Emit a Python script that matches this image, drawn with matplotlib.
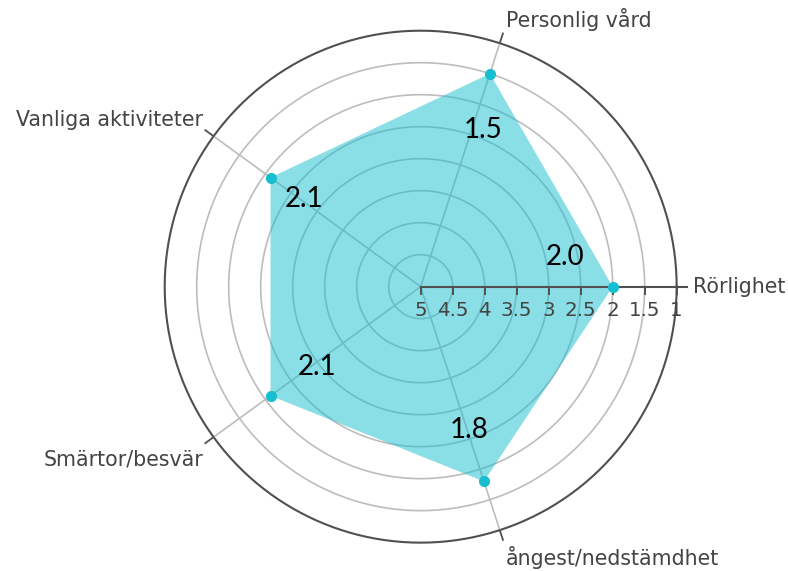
import numpy as np
import matplotlib.pyplot as plt

# EQ-5D style dimensions and mean scores (1 = best, 5 = worst)
categories = ['Rörlighet', 'Personlig vård', 'Vanliga aktiviteter',
              'Smärtor/besvär', 'ångest/nedstämdhet']
scores = [2.0, 1.5, 2.1, 2.1, 1.8]
r_ticks = [5, 4.5, 4, 3.5, 3, 2.5, 2, 1.5, 1]
r_tick_labels = ['5', '4.5', '4', '3.5', '3', '2.5', '2', '1.5', '1']

fig = plt.figure(figsize=(7.88, 5.71), dpi=100)
ax = fig.add_axes([0.209, 0.0496, 0.6497, 0.8967], projection='polar')
ax.set_ylim(5, 1)
ax.grid(False)
ax.set_xticks([])
ax.set_yticks([])
ax.spines['polar'].set_visible(False)

theta = np.deg2rad(np.arange(len(categories)) * 360 / len(categories))
dark = '#505050'
light = '#bdbdbd'
r_out = 0.84  # spoke ends a bit past the outer ring

# rings
ring = np.linspace(0, 2 * np.pi, 361)
for r in r_ticks[1:-1]:
    ax.plot(ring, np.full_like(ring, r), color=light, lw=1.2, zorder=1)
ax.plot(ring, np.full_like(ring, r_ticks[-1]), color=dark, lw=1.5, zorder=1, clip_on=False)

# spokes
for t in theta[1:]:
    ax.plot([t, t], [r_ticks[0], r_ticks[-1]], color=light, lw=1.2, zorder=1)
    ax.plot([t, t], [r_ticks[-1], r_out], color=dark, lw=1.3, zorder=1, clip_on=False)
ax.plot([0, 0], [r_ticks[0], r_out], color=dark, lw=1.5, zorder=4, clip_on=False)

# filled area + points
th_c = np.append(theta, theta[0])
sc_c = scores + scores[:1]
ax.fill(th_c, sc_c, color='#17becf', alpha=0.5, lw=0, zorder=2)
ax.plot(theta, scores, ls='none', marker='o', ms=7, color='#17becf', zorder=5, clip_on=False)

# radial axis ticks and labels
ax.plot(np.zeros(len(r_ticks)), r_ticks, ls='none', marker=3, ms=6, mew=1.4,
        color=dark, zorder=4, clip_on=False)
for r, lab in zip(r_ticks, r_tick_labels):
    ax.annotate(lab, (0, r), xytext=(0, -14), textcoords='offset pixels',
                ha='center', va='top', fontsize=14.3, color='#444444', zorder=6)

# category labels at spoke ends
cat_align = [('left', 'center', 6, 0), ('left', 'bottom', 3, 2),
             ('right', 'bottom', -2, 0), ('right', 'top', -2, -6),
             ('left', 'top', 3, -6)]
for t, name, (ha, va, dx, dy) in zip(theta, categories, cat_align):
    ax.annotate(name, (t, r_out), xytext=(dx, dy), textcoords='offset pixels',
                ha=ha, va=va, fontsize=14.8, color='#444444', annotation_clip=False)

# value labels (angle in degrees, radius on the score scale)
value_spots = [(11.8, 2.70), (68.4, 2.36), (143.1, 2.73), (218.0, 2.95), (288.6, 2.64)]
for (deg, r), v in zip(value_spots, scores):
    ax.text(np.deg2rad(deg), r, f'{v:.1f}', ha='center', va='center',
            fontsize=20, family='Lato', color='black', zorder=7)

plt.savefig('out.png', dpi=100)
